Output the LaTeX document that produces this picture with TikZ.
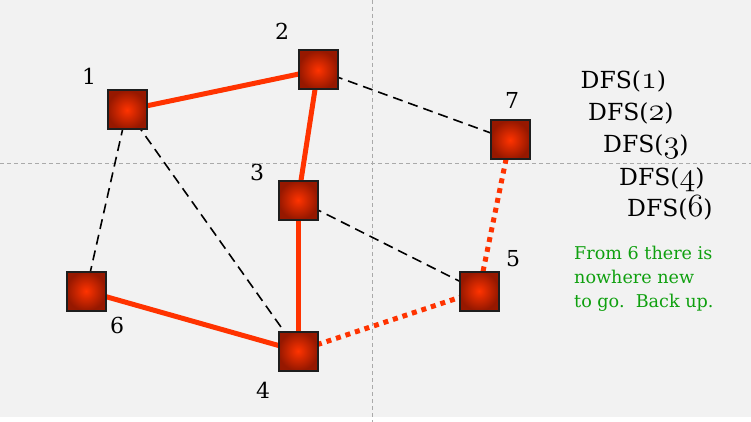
\documentclass[tikz,border=0pt]{standalone}
\usepackage{fontspec}
\usepackage{graphicx}
\usetikzlibrary{backgrounds}
\newfontfamily\dejaserif{DejaVu Serif}
\newcommand\osnum[1]{\scalebox{1.3}{\usefont{OML}{lmm}{b}{it}#1}}
\definecolor{bggray}{RGB}{242,242,242}
\definecolor{gridgray}{RGB}{170,170,170}
\definecolor{edgered}{RGB}{255,51,0}
\definecolor{vtxinner}{RGB}{255,51,0}
\definecolor{vtxouter}{RGB}{150,24,0}
\definecolor{vtxborder}{RGB}{30,30,30}
\definecolor{notegreen}{RGB}{15,160,15}
\tikzset{
  vtx/.style={rectangle, minimum size=39pt, inner sep=0pt, draw=vtxborder, line width=2pt,
    inner color=vtxinner, outer color=vtxouter},
  lbl/.style={inner sep=0pt, font=\dejaserif\fontsize{22}{26}\selectfont},
  dfs/.style={anchor=base west, inner sep=0pt, font=\dejaserif\fontsize{23.5}{27}\selectfont},
  tree/.style={draw=edgered, line width=5pt},
  back/.style={draw=edgered, line width=5pt, dash pattern=on 5pt off 5pt},
  nontree/.style={draw=black, line width=1.6pt, dash pattern=on 10pt off 6pt},
  gridline/.style={draw=gridgray, line width=1pt, dash pattern=on 4pt off 3pt}
}
\begin{document}
\begin{tikzpicture}[x=1pt,y=-1pt]
\useasboundingbox (0,0) rectangle (751,422);
\begin{scope}[on background layer]
  \fill[white] (0,0) rectangle (751,422);
  \fill[bggray] (0,0) rectangle (751,417);
  \draw[gridline] (372,0) -- (372,422);
  \draw[gridline] (0,163) -- (751,163);
\end{scope}
% vertices
\node[vtx] (n1) at (127,110) {};
\node[vtx] (n2) at (318,70) {};
\node[vtx] (n3) at (298,200) {};
\node[vtx] (n4) at (298,351) {};
\node[vtx] (n5) at (479,291) {};
\node[vtx] (n6) at (86,291) {};
\node[vtx] (n7) at (510,140) {};
% vertex labels
\node[lbl] (l1) at (89,76) {1};
\node[lbl] (l2) at (282,31) {2};
\node[lbl] (l3) at (257,172) {3};
\node[lbl] (l4) at (263,390) {4};
\node[lbl] (l5) at (513,259) {5};
\node[lbl] (l6) at (117,325) {6};
\node[lbl] (l7) at (512,100) {7};
% edges
\begin{scope}[on background layer]
  \draw[tree] (n1.center) -- (n2.center);
  \draw[tree] (n2.center) -- (n3.center);
  \draw[tree] (n3.center) -- (n4.center);
  \draw[tree] (n4.center) -- (n6.center);
  \draw[back] (n4.center) -- (n5.center);
  \draw[back] (n5.center) -- (n7.center);
  \draw[nontree] (n2.center) -- (n7.center);
  \draw[nontree] (n1.center) -- (n6.center);
  \draw[nontree] (n1.center) -- (n4.center);
  \draw[nontree] (n3.center) -- (n5.center);
\end{scope}
% call stack
\node[dfs] (d1) at (580.5,88.3) {DFS(\osnum{1})};
\node[dfs] (d2) at (588,121) {DFS(\osnum{2})};
\node[dfs] (d3) at (603,153) {DFS(\osnum{3})};
\node[dfs] (d4) at (619,185) {DFS(\osnum{4})};
\node[dfs] (d6) at (627,216.7) {DFS(\osnum{6})};
\node[anchor=north west, inner sep=0pt, align=left, text=notegreen,
  font=\dejaserif\fontsize{17.6}{24}\selectfont] (note) at (574,246)
  {From 6 there is\\nowhere new\\to go.\ \ Back up.};
\end{tikzpicture}
\end{document}
